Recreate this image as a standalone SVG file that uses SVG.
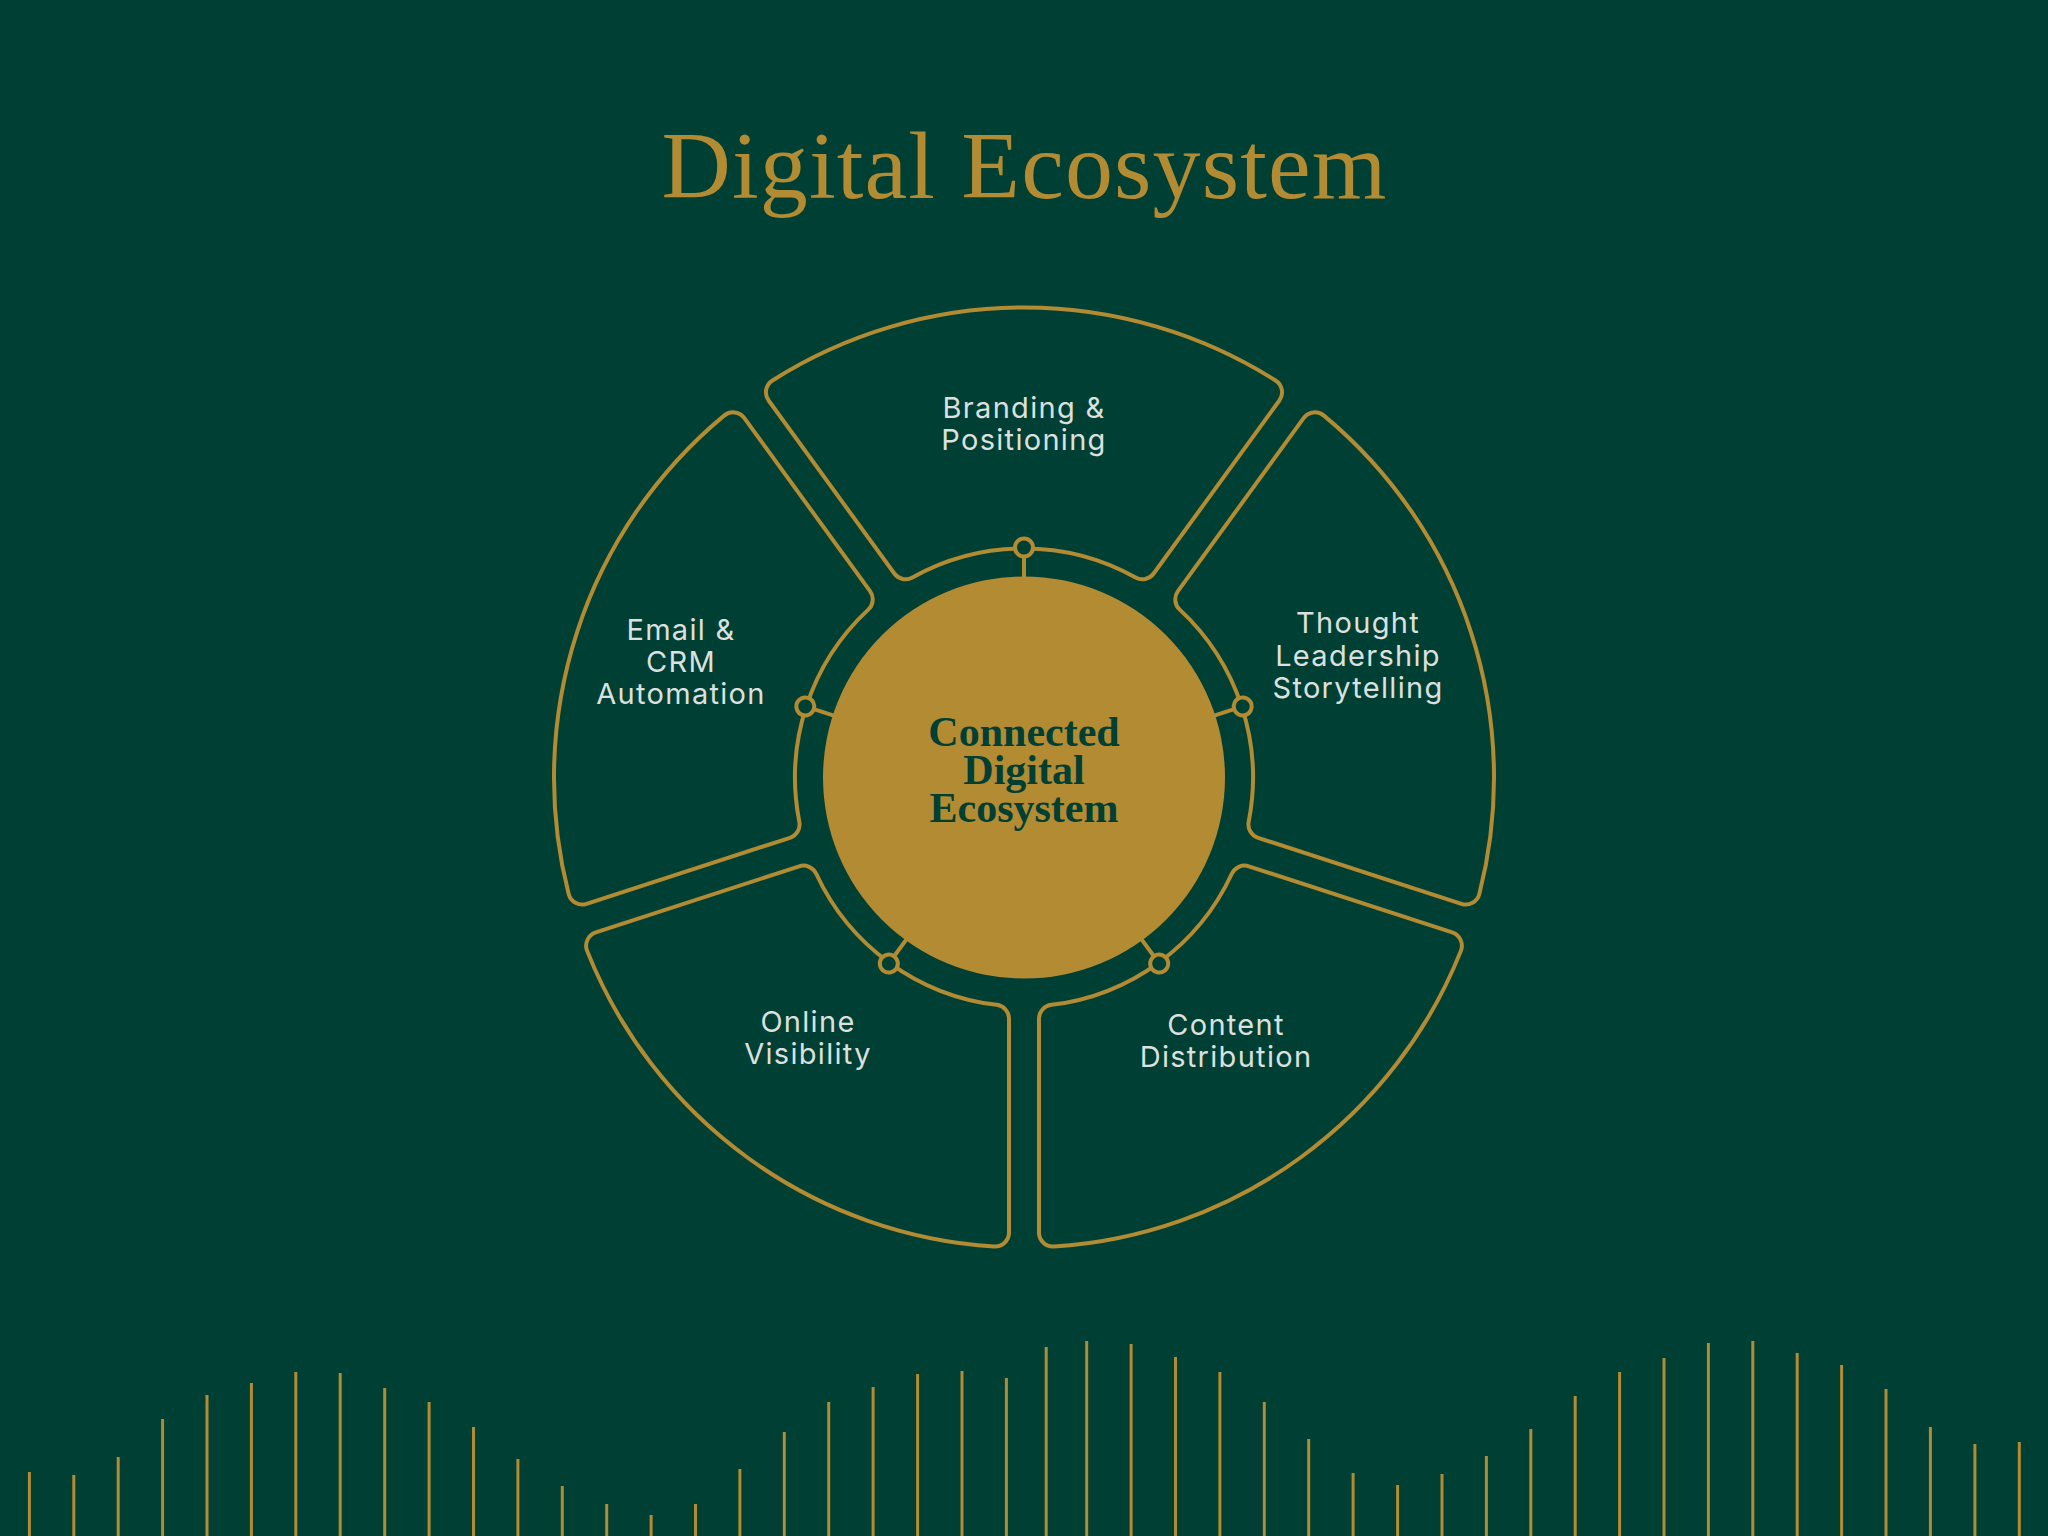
<svg xmlns="http://www.w3.org/2000/svg" xmlns:xlink="http://www.w3.org/1999/xlink" width="2048" height="1536" viewBox="0 0 2048 1536">
<defs>
<style>
.seg{fill:none;stroke:#B38B33;stroke-width:4;stroke-linejoin:round}
.node{fill:#003F34;stroke:#B38B33;stroke-width:4}
.link{stroke:#B38B33;stroke-width:4}
.lbl{font-family:Inter,"Noto Sans","Liberation Sans",sans-serif;font-size:29px;letter-spacing:1.3px;fill:#DCE0DE;text-anchor:middle}
.core{font-family:"Liberation Serif","DejaVu Serif",serif;font-weight:bold;font-size:42px;fill:#003F34;text-anchor:middle}
.title{font-family:"Liberation Serif","DejaVu Serif",serif;font-size:96px;fill:#B38B33;text-anchor:middle}
.bars line{stroke:#B38B33;stroke-width:3}
</style>
<path id="seg" class="seg" d="M -251.53 -397.04 A 470 470 0 0 1 251.53 -397.04 A 14 14 0 0 1 255.37 -376.98 L 129.68 -204.0 A 14 14 0 0 1 111.53 -200.0 A 229 229 0 0 0 -111.53 -200.0 A 14 14 0 0 1 -129.68 -204.0 L -255.37 -376.98 A 14 14 0 0 1 -251.53 -397.04 Z"/>
<g id="nd"><line class="link" x1="0" y1="-200" x2="0" y2="-221"/><circle class="node" cx="0" cy="-230" r="9"/></g>
</defs>
<rect x="0" y="0" width="2048" height="1536" fill="#003F34"/>
<text class="title" x="1024" y="198" textLength="725" lengthAdjust="spacing">Digital Ecosystem</text>

<g id="node-branding">
<use href="#seg" transform="translate(1024 777.5)"/>
<text class="lbl" x="1024" y="418">Branding &amp;</text>
<text class="lbl" x="1024" y="450">Positioning</text>
</g>
<g id="node-thought">
<use href="#seg" transform="translate(1024 777.5) rotate(72)"/>
<text class="lbl" x="1358" y="633">Thought</text>
<text class="lbl" x="1358" y="666">Leadership</text>
<text class="lbl" x="1358" y="698">Storytelling</text>
</g>
<g id="node-content">
<use href="#seg" transform="translate(1024 777.5) rotate(144)"/>
<text class="lbl" x="1226" y="1035">Content</text>
<text class="lbl" x="1226" y="1067">Distribution</text>
</g>
<g id="node-online">
<use href="#seg" transform="translate(1024 777.5) rotate(216)"/>
<text class="lbl" x="808" y="1032">Online</text>
<text class="lbl" x="808" y="1064">Visibility</text>
</g>
<g id="node-email">
<use href="#seg" transform="translate(1024 777.5) rotate(288)"/>
<text class="lbl" x="681" y="640">Email &amp;</text>
<text class="lbl" x="681" y="672">CRM</text>
<text class="lbl" x="681" y="704">Automation</text>
</g>

<g id="connectors">
<use href="#nd" transform="translate(1024 777.5)"/>
<use href="#nd" transform="translate(1024 777.5) rotate(72)"/>
<use href="#nd" transform="translate(1024 777.5) rotate(144)"/>
<use href="#nd" transform="translate(1024 777.5) rotate(216)"/>
<use href="#nd" transform="translate(1024 777.5) rotate(288)"/>
</g>

<g id="node-core">
<circle cx="1024" cy="777.5" r="201" fill="#B38B33"/>
<text class="core" x="1024" y="746">Connected</text>
<text class="core" x="1024" y="784">Digital</text>
<text class="core" x="1024" y="822">Ecosystem</text>
</g>

<g class="bars">
<line x1="29.4" y1="1472" x2="29.4" y2="1536"/>
<line x1="73.8" y1="1475" x2="73.8" y2="1536"/>
<line x1="118.2" y1="1457" x2="118.2" y2="1536"/>
<line x1="162.6" y1="1419" x2="162.6" y2="1536"/>
<line x1="207" y1="1395" x2="207" y2="1536"/>
<line x1="251.4" y1="1383" x2="251.4" y2="1536"/>
<line x1="295.8" y1="1372" x2="295.8" y2="1536"/>
<line x1="340.2" y1="1373" x2="340.2" y2="1536"/>
<line x1="384.7" y1="1388" x2="384.7" y2="1536"/>
<line x1="429.1" y1="1402" x2="429.1" y2="1536"/>
<line x1="473.5" y1="1427" x2="473.5" y2="1536"/>
<line x1="517.9" y1="1459" x2="517.9" y2="1536"/>
<line x1="562.3" y1="1486" x2="562.3" y2="1536"/>
<line x1="606.7" y1="1504" x2="606.7" y2="1536"/>
<line x1="651.1" y1="1515" x2="651.1" y2="1536"/>
<line x1="695.5" y1="1504" x2="695.5" y2="1536"/>
<line x1="739.9" y1="1469" x2="739.9" y2="1536"/>
<line x1="784.3" y1="1432" x2="784.3" y2="1536"/>
<line x1="828.7" y1="1402" x2="828.7" y2="1536"/>
<line x1="873.1" y1="1387" x2="873.1" y2="1536"/>
<line x1="917.6" y1="1374" x2="917.6" y2="1536"/>
<line x1="962" y1="1371" x2="962" y2="1536"/>
<line x1="1006.4" y1="1378" x2="1006.4" y2="1536"/>
<line x1="1046.2" y1="1347" x2="1046.2" y2="1536"/>
<line x1="1086.7" y1="1341" x2="1086.7" y2="1536"/>
<line x1="1131.1" y1="1344" x2="1131.1" y2="1536"/>
<line x1="1175.5" y1="1357" x2="1175.5" y2="1536"/>
<line x1="1219.9" y1="1372" x2="1219.9" y2="1536"/>
<line x1="1264.3" y1="1402" x2="1264.3" y2="1536"/>
<line x1="1308.7" y1="1439" x2="1308.7" y2="1536"/>
<line x1="1353.1" y1="1473" x2="1353.1" y2="1536"/>
<line x1="1397.6" y1="1485" x2="1397.6" y2="1536"/>
<line x1="1442" y1="1474" x2="1442" y2="1536"/>
<line x1="1486.4" y1="1456" x2="1486.4" y2="1536"/>
<line x1="1530.8" y1="1429" x2="1530.8" y2="1536"/>
<line x1="1575.2" y1="1396" x2="1575.2" y2="1536"/>
<line x1="1619.6" y1="1372" x2="1619.6" y2="1536"/>
<line x1="1664" y1="1358" x2="1664" y2="1536"/>
<line x1="1708.4" y1="1343" x2="1708.4" y2="1536"/>
<line x1="1752.8" y1="1341" x2="1752.8" y2="1536"/>
<line x1="1797.2" y1="1353" x2="1797.2" y2="1536"/>
<line x1="1841.6" y1="1365" x2="1841.6" y2="1536"/>
<line x1="1886" y1="1389" x2="1886" y2="1536"/>
<line x1="1930.4" y1="1427" x2="1930.4" y2="1536"/>
<line x1="1974.9" y1="1444" x2="1974.9" y2="1536"/>
<line x1="2019.3" y1="1442" x2="2019.3" y2="1536"/>
</g>
</svg>
